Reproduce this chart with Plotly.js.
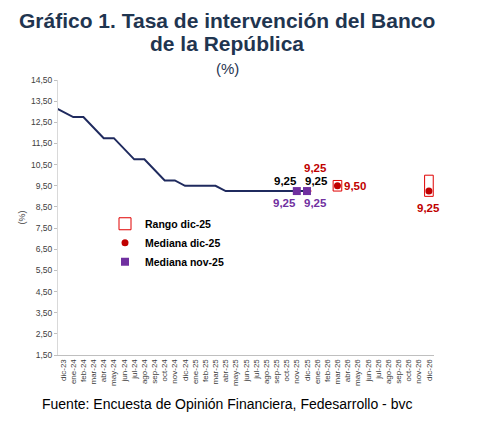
<!DOCTYPE html>
<html>
<head>
<meta charset="utf-8">
<script src="https://cdn.plot.ly/plotly-3.0.1.min.js"></script>
<style>
  html, body { margin: 0; padding: 0; background: #ffffff; }
  #chart { width: 485px; height: 430px; }
</style>
</head>
<body>
<div id="chart"></div>
<script>
// Months shown on the x axis (dic-23 .. dic-26)
const months = [
  'dic-23', 'ene-24', 'feb-24', 'mar-24', 'abr-24', 'may-24', 'jun-24', 'jul-24',
  'ago-24', 'sep-24', 'oct-24', 'nov-24', 'dic-24', 'ene-25', 'feb-25', 'mar-25',
  'abr-25', 'may-25', 'jun-25', 'jul-25', 'ago-25', 'sep-25', 'oct-25', 'nov-25',
  'dic-25', 'ene-26', 'feb-26', 'mar-26', 'abr-26', 'may-26', 'jun-26', 'jul-26',
  'ago-26', 'sep-26', 'oct-26', 'nov-26', 'dic-26'
];

// Observed policy rate, nov-23 (cut off at the left edge) through dic-25
const rateMonths = [
  'nov-23', 'dic-23', 'ene-24', 'feb-24', 'mar-24', 'abr-24', 'may-24', 'jun-24',
  'jul-24', 'ago-24', 'sep-24', 'oct-24', 'nov-24', 'dic-24', 'ene-25', 'feb-25',
  'mar-25', 'abr-25', 'may-25', 'jun-25', 'jul-25', 'ago-25', 'sep-25', 'oct-25',
  'nov-25', 'dic-25'
];
const rateValues = [
  13.25, 13.00, 12.75, 12.75, 12.25, 11.75, 11.75, 11.25,
  10.75, 10.75, 10.25, 9.75, 9.75, 9.50, 9.50, 9.50,
  9.50, 9.25, 9.25, 9.25, 9.25, 9.25, 9.25, 9.25,
  9.25, 9.25
];

// Survey of dic-25: median and range
const dicMonths = ['dic-25', 'mar-26', 'dic-26'];
const dicMedian = [9.25, 9.50, 9.25];
const dicLow = [9.25, 9.25, 9.00];
const dicHigh = [9.25, 9.75, 10.00];

// Survey of nov-25: median
const novMonths = ['nov-25', 'dic-25'];
const novMedian = [9.25, 9.25];

const NAVY = '#1f2a5e';
const RED = '#e00000';
const DARKRED = '#c00000';
const PURPLE = '#7030a0';
const TITLE = '#1f3550';
const FONT = 'Liberation Sans, Arial, sans-serif';

// position on the x axis; nov-23 sits one step left of the first tick
const idx = m => m === 'nov-23' ? -1 : months.indexOf(m);
const fmt = v => v.toFixed(2).replace('.', ',');

const traces = [];

// Range boxes
traces.push({
  type: 'bar',
  name: '<b>Rango dic-25</b>',
  x: dicMonths.map(idx),
  base: dicLow,
  y: dicHigh.map((h, i) => h - dicLow[i]),
  width: 0.85,
  marker: { color: 'rgba(255,255,255,0)', line: { color: RED, width: 1 } },
  hoverinfo: 'skip'
});

// Observed rate
traces.push({
  type: 'scatter',
  mode: 'lines',
  x: rateMonths.map(idx),
  y: rateValues,
  line: { color: NAVY, width: 2 },
  showlegend: false
});

traces.push({
  type: 'scatter',
  mode: 'markers',
  name: '<b>Mediana dic-25</b>',
  x: dicMonths.map(idx),
  y: dicMedian,
  marker: { color: DARKRED, size: 7, symbol: 'circle' }
});

traces.push({
  type: 'scatter',
  mode: 'markers',
  name: '<b>Mediana nov-25</b>',
  x: novMonths.map(idx),
  y: novMedian,
  marker: { color: PURPLE, size: 8, symbol: 'square' }
});

// Data labels
const annotations = [];
const lab = (xi, y, text, color, xshift, yshift) => annotations.push({
  x: xi, y: y, xref: 'x', yref: 'y', text: '<b>' + text + '</b>', showarrow: false,
  xshift: xshift, yshift: yshift, font: { family: FONT, size: 11.5, color: color }
});
const last = rateValues.length;
lab(idx('nov-25'), rateValues[last - 2], fmt(rateValues[last - 2]), '#000000', -11, 10);
lab(idx('dic-25'), rateValues[last - 1], fmt(rateValues[last - 1]), '#000000', 10, 10);
lab(idx('nov-25'), novMedian[0], fmt(novMedian[0]), PURPLE, -12, -12);
lab(idx('dic-25'), novMedian[1], fmt(novMedian[1]), PURPLE, 9, -12);
lab(idx('dic-25'), dicMedian[0], fmt(dicMedian[0]), DARKRED, 9, 23);
lab(idx('mar-26'), dicMedian[1], fmt(dicMedian[1]), DARKRED, 18, 0);
lab(idx('dic-26'), dicMedian[2], fmt(dicMedian[2]), DARKRED, 0, -17);

// Titles and source
const head = (text, size, bold, yshift) => annotations.push({
  xref: 'paper', yref: 'paper', x: 0.45, y: 1, yanchor: 'middle', yshift: yshift,
  text: bold ? '<b>' + text + '</b>' : text, showarrow: false,
  font: { family: FONT, size: size, color: TITLE }
});
head('Gráfico 1. Tasa de intervención del Banco', 21, true, 60);
head('de la República', 21, true, 37);
head('(%)', 15, false, 12);

annotations.push({
  xref: 'paper', yref: 'paper', x: 0, xshift: -44, y: 0.5, textangle: -90,
  text: '(%)', showarrow: false, font: { family: FONT, size: 9, color: '#404040' }
});
annotations.push({
  xref: 'paper', yref: 'paper', x: 0, xshift: -18, xanchor: 'left', y: 0, yshift: -39,
  yanchor: 'top', text: 'Fuente: Encuesta de Opinión Financiera, Fedesarrollo - bvc',
  showarrow: false, font: { family: FONT, size: 14, color: '#000000' }
});

const layout = {
  width: 485,
  height: 430,
  margin: { l: 58, r: 51, t: 80, b: 75 },
  paper_bgcolor: '#ffffff',
  plot_bgcolor: '#ffffff',
  separators: ',.',
  barmode: 'overlay',
  xaxis: {
    range: [-0.5, 36.5],
    tickvals: months.map((m, i) => i),
    ticktext: months,
    tickangle: -90,
    tickfont: { family: FONT, size: 8, color: '#404040' },
    showgrid: false,
    zeroline: false,
    showline: true,
    linecolor: '#bfbfbf',
    linewidth: 1,
    ticks: ''
  },
  yaxis: {
    range: [1.5, 14.5],
    tick0: 1.5,
    dtick: 1,
    tickformat: '.2f',
    tickfont: { family: FONT, size: 8.5, color: '#404040' },
    showgrid: false,
    zeroline: false,
    showline: true,
    linecolor: '#d9d9d9',
    linewidth: 1,
    ticks: 'outside',
    ticklen: 3,
    tickcolor: '#bfbfbf'
  },
  showlegend: true,
  legend: {
    x: 0.125, y: 0.53, xanchor: 'left', yanchor: 'top',
    bgcolor: 'rgba(255,255,255,0)',
    font: { family: FONT, size: 10.5, color: '#000000' },
    traceorder: 'normal',
    itemwidth: 30,
    tracegroupgap: 0
  },
  annotations: annotations
};

Plotly.newPlot('chart', traces, layout, { displayModeBar: false, staticPlot: true });
</script>
</body>
</html>
